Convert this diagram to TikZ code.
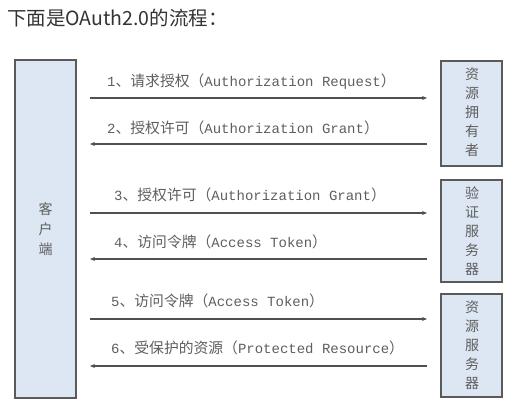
\documentclass[tikz,border=0pt]{standalone}
\usepackage{fontspec}
\newfontfamily\cjk{Noto Sans CJK SC}
\newfontfamily\mono{Liberation Mono}
\definecolor{boxfill}{HTML}{DDE7F3}
\definecolor{boxline}{HTML}{5A5A5A}
\definecolor{txt}{HTML}{5E5E5E}
\definecolor{arr}{HTML}{505050}
\newcommand\flowlabel[3]{{\mono\fontsize{14}{16}\selectfont #1}{\cjk\fontsize{14.8}{17}\selectfont 、#2（}{\mono\fontsize{14}{16}\selectfont #3}{\cjk\fontsize{14.8}{17}\selectfont ）}}
\tikzset{
  party/.style={draw=boxline, line width=1.8pt, fill=boxfill, inner sep=0pt},
  msg/.style={draw=arr, line width=1.4pt, -{Stealth[length=5pt,width=4pt]}},
  lbl/.style={anchor=west, text=txt, inner sep=0pt},
  vtxt/.style={text=txt, font=\cjk\fontsize{14}{19}\selectfont, align=center, inner sep=0pt}
}
\usetikzlibrary{arrows.meta}
\begin{document}
\begin{tikzpicture}[x=1pt,y=-1pt]
\useasboundingbox (0,0) rectangle (521,417);
\node[anchor=west, text=black!80, font=\cjk\fontsize{19.5}{22}\selectfont, inner sep=0pt] (title) at (7,18) {下面是OAuth2.0的流程：};
% boxes
\draw[party] (15,60) rectangle (76,398);
\draw[party] (441,61) rectangle (502,166);
\draw[party] (441,180) rectangle (502,282);
\draw[party] (441,294) rectangle (502,397);
\node[vtxt] (client) at (45.5,229) {客\\[1pt]户\\[1pt]端};
\node[vtxt] (owner) at (472,112) {资\\源\\拥\\有\\者};
\node[vtxt] (auth) at (472,231) {验\\证\\服\\务\\器};
\node[vtxt] (res) at (472,345) {资\\源\\服\\务\\器};
% arrow endpoints
\coordinate (l1) at (90,98);  \coordinate (r1) at (427,98);
\coordinate (l2) at (90,144); \coordinate (r2) at (427,144);
\coordinate (l3) at (90,213); \coordinate (r3) at (427,213);
\coordinate (l4) at (90,259); \coordinate (r4) at (427,259);
\coordinate (l5) at (90,319); \coordinate (r5) at (427,319);
\coordinate (l6) at (90,366); \coordinate (r6) at (427,366);
\draw[msg] (l1) -- (r1);
\draw[msg] (r2) -- (l2);
\draw[msg] (l3) -- (r3);
\draw[msg] (r4) -- (l4);
\draw[msg] (l5) -- (r5);
\draw[msg] (r6) -- (l6);
\node[lbl] (t1) at (107,82) {\flowlabel{1}{请求授权}{Authorization Request}};
\node[lbl] (t2) at (107,128) {\flowlabel{2}{授权许可}{Authorization Grant}};
\node[lbl] (t3) at (114,195) {\flowlabel{3}{授权许可}{Authorization Grant}};
\node[lbl] (t4) at (114,242) {\flowlabel{4}{访问令牌}{Access Token}};
\node[lbl] (t5) at (111,301) {\flowlabel{5}{访问令牌}{Access Token}};
\node[lbl] (t6) at (111,348) {\flowlabel{6}{受保护的资源}{Protected Resource}};
\end{tikzpicture}
\end{document}
